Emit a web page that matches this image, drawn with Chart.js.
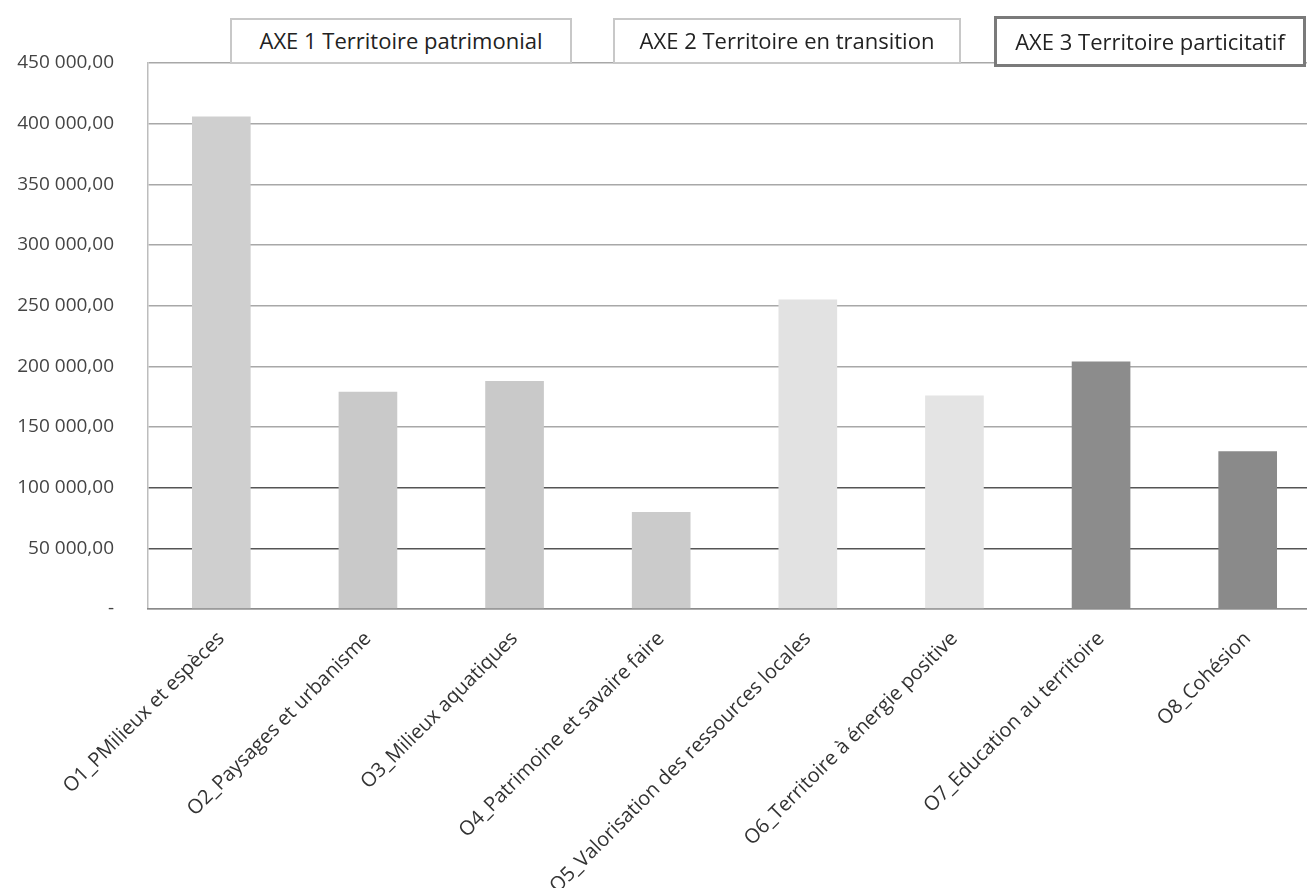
<!DOCTYPE html>
<html lang="fr">
<head>
<meta charset="utf-8">
<title>Budget par objectif</title>
<script src="https://cdn.jsdelivr.net/npm/chart.js@4/dist/chart.umd.min.js"></script>
<style>
  body { margin: 0; background: #fff; overflow: hidden; }
  #wrap { position: relative; width: 1307px; height: 888px; overflow: hidden; }
  #budgetChart { position: absolute; left: 0; top: 0; }
  .axe {
    position: absolute;
    box-sizing: border-box;
    top: 18px;
    height: 46px;
    background: #fff;
    border: 2px solid #c8c8c8;
    font-family: "Open Sans", Lato, sans-serif;
    font-size: 22px;
    color: #222;
    line-height: 40px;
    text-align: center;
    white-space: nowrap;
  }
  .axe.dark { top: 16px; height: 51px; border: 3px solid #7a7a7a; line-height: 44px; }
</style>
</head>
<body>
<div id="wrap">
  <canvas id="budgetChart" width="1330" height="888"></canvas>
  <div class="axe" style="left:230px; width:342px;">AXE 1 Territoire patrimonial</div>
  <div class="axe" style="left:613px; width:348px;">AXE 2 Territoire en transition</div>
  <div class="axe dark" style="left:994px; width:312px;">AXE 3 Territoire particitatif</div>
</div>

<script>
const categories = [
  "O1_PMilieux et espèces",
  "O2_Paysages et urbanisme",
  "O3_Milieux aquatiques",
  "O4_Patrimoine et savaire faire",
  "O5_Valorisation des ressources locales",
  "O6_Territoire à énergie positive",
  "O7_Education au territoire",
  "O8_Cohésion"
]
const montants = [406000, 179000, 188000, 80000, 255000, 176000, 204000, 130000]
const couleurs = ["#cfcfcf", "#c9c9c9", "#c9c9c9", "#cbcbcb", "#e2e2e2", "#e4e4e4", "#8c8c8c", "#8a8a8a"]
const yMax = 450000
const yStep = 50000

// "450 000,00" style, zero shown as a dash
function formatMontant(v) {
  if (v === 0) return "-"
  const entier = Math.round(v).toString().replace(/\B(?=(\d{3})+(?!\d))/g, " ")
  return entier + ",00"
}

new Chart(document.getElementById("budgetChart"), {
  type: "bar",
  data: {
    labels: categories,
    datasets: [{
      data: montants,
      backgroundColor: couleurs,
      borderWidth: 0,
      barPercentage: 0.4,
      categoryPercentage: 1
    }]
  },
  options: {
    responsive: false,
    animation: false,
    layout: { padding: { top: 63, right: 9, left: 0, bottom: 0 } },
    plugins: {
      legend: { display: false },
      tooltip: { enabled: false }
    },
    scales: {
      y: {
        min: 0,
        max: yMax,
        ticks: {
          stepSize: yStep,
          padding: 34,
          color: "#444",
          font: { family: "Open Sans", size: 19 },
          callback: v => formatMontant(v)
        },
        grid: {
          drawTicks: false,
          lineWidth: 1.5,
          color: ctx => (ctx.tick && ctx.tick.value > 0 && ctx.tick.value <= 100000) ? "#555" : "#a8a8a8"
        },
        border: { color: "#bdbdbd", width: 1.5 },
        afterFit: s => { s.width = 148 }
      },
      x: {
        ticks: {
          minRotation: 45,
          maxRotation: 45,
          autoSkip: false,
          padding: 10,
          color: "#333",
          font: { family: "Open Sans", size: 20 }
        },
        grid: { display: false },
        border: { color: "#8a8a8a", width: 1.5 },
        // fixed band below the plot so its baseline sits at y = 609
        afterFit: s => { s.height = 279 }
      }
    }
  }
})
</script>
</body>
</html>
